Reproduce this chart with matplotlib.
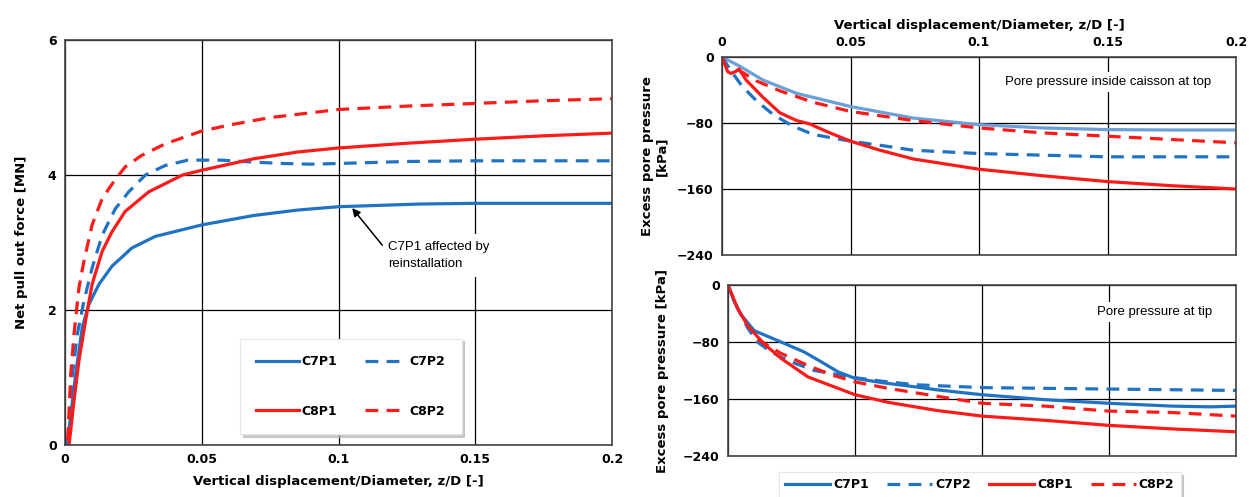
import matplotlib
matplotlib.use("Agg")
import matplotlib.pyplot as plt

BLUE = "#1f72c4"
LIGHT_BLUE = "#6a9fd8"
RED = "#ff1a1a"

# left panel: net pull out force [MN] vs z/D
c7p1_x = [0.0008, 0.0039, 0.0063, 0.0087, 0.0124, 0.0172, 0.0245, 0.033, 0.05, 0.069, 0.085, 0.1, 0.13, 0.15, 0.2]
c7p1_y = [0.0, 1.05, 1.74, 2.08, 2.38, 2.65, 2.92, 3.09, 3.26, 3.40, 3.48, 3.53, 3.57, 3.58, 3.58]
c7p2_x = [0.001, 0.0027, 0.0045, 0.0069, 0.0099, 0.0136, 0.0184, 0.0233, 0.0294, 0.0366, 0.045, 0.057,
          0.069, 0.08, 0.09, 0.1, 0.125, 0.15, 0.2]
c7p2_y = [0.07, 1.05, 1.64, 2.13, 2.62, 3.11, 3.5, 3.75, 4.0, 4.14, 4.22, 4.22,
          4.19, 4.17, 4.16, 4.17, 4.2, 4.21, 4.21]
c8p1_x = [0.0015, 0.0033, 0.0051, 0.0075, 0.0099, 0.0136, 0.0172, 0.022, 0.0306, 0.043, 0.05, 0.069,
          0.085, 0.1, 0.125, 0.15, 0.175, 0.2]
c8p1_y = [0.0, 0.66, 1.25, 1.84, 2.38, 2.87, 3.16, 3.46, 3.75, 4.0, 4.07, 4.24,
          4.34, 4.40, 4.47, 4.53, 4.58, 4.62]
c8p2_x = [0.001, 0.0021, 0.0033, 0.0051, 0.0069, 0.0099, 0.0136, 0.0178, 0.022, 0.028, 0.0366, 0.045,
          0.05, 0.06, 0.075, 0.1, 0.125, 0.15, 0.175, 0.2]
c8p2_y = [0.07, 1.05, 1.64, 2.33, 2.72, 3.26, 3.65, 3.9, 4.12, 4.29, 4.46, 4.58,
          4.65, 4.74, 4.85, 4.97, 5.02, 5.06, 5.1, 5.13]

# right top: pore pressure inside caisson at top [kPa]
top_c7p1_x = [0, 0.0068, 0.016, 0.029, 0.05, 0.0744, 0.1, 0.125, 0.15, 0.175, 0.2]
top_c7p1_y = [0, -11, -28, -44, -60, -74, -82, -86, -88, -88.5, -88.5]
top_c7p2_x = [0, 0.0042, 0.008, 0.0134, 0.02, 0.0277, 0.0356, 0.05, 0.0615, 0.0744, 0.1, 0.125, 0.15, 0.2]
top_c7p2_y = [0, -20, -36, -53, -70, -84, -94, -102, -107, -113, -117, -119, -121, -121]
top_c8p1_x = [0, 0.0022, 0.0035, 0.0052, 0.0066, 0.0094, 0.016, 0.0225, 0.029, 0.034, 0.042, 0.05,
              0.0615, 0.0744, 0.1, 0.125, 0.15, 0.175, 0.2]
top_c8p1_y = [0, -17.8, -19.9, -17.8, -14.5, -28, -49, -67.6, -77, -81, -92, -102,
              -113, -123.6, -136, -144, -151, -156, -160]
top_c8p2_x = [0.0062, 0.0134, 0.0225, 0.0356, 0.05, 0.0744, 0.1, 0.125, 0.15, 0.175, 0.2]
top_c8p2_y = [-15.3, -29, -41, -55, -66, -77, -86, -92, -96, -100, -104]

# right bottom: pore pressure at tip [kPa]
tip_c7p1_x = [0, 0.0024, 0.005, 0.0103, 0.0209, 0.03, 0.0368, 0.0434, 0.05, 0.0606, 0.0738, 0.082,
              0.1, 0.125, 0.15, 0.175, 0.19, 0.2]
tip_c7p1_y = [0, -23, -41, -64, -80, -94, -108, -122, -131, -137, -143, -147,
              -154, -161, -166, -170, -171, -170]
tip_c7p2_x = [0, 0.0037, 0.0077, 0.0116, 0.017, 0.0235, 0.034, 0.05, 0.0606, 0.0738, 0.1, 0.15, 0.2]
tip_c7p2_y = [0, -32, -60, -80, -94, -106, -120, -130, -135, -140, -144, -146, -148]
tip_c8p1_x = [0, 0.0037, 0.0077, 0.0143, 0.0209, 0.0315, 0.05, 0.063, 0.082, 0.1, 0.125, 0.15, 0.175, 0.2]
tip_c8p1_y = [0, -32, -57, -83, -103, -129, -154, -164.6, -176, -184, -190, -197, -202, -206]
tip_c8p2_x = [0.0116, 0.0209, 0.0315, 0.0407, 0.05, 0.063, 0.082, 0.1, 0.125, 0.15, 0.175, 0.2]
tip_c8p2_y = [-76, -96, -113, -126, -136, -145, -156, -166, -170, -177, -179, -184]

x_ticks = [0, 0.05, 0.1, 0.15, 0.2]
x_tick_labels = ["0", "0.05", "0.1", "0.15", "0.2"]
p_ticks = [0, -80, -160, -240]

plt.rcParams["font.family"] = ["DejaVu Sans"]
plt.rcParams["font.weight"] = "bold"

fig = plt.figure(figsize=(12.5, 4.97), dpi=100)
ax_f = fig.add_axes([0.052, 0.1046, 0.4376, 0.815])
ax_t = fig.add_axes([0.5776, 0.4869, 0.4112, 0.3984])
ax_b = fig.add_axes([0.5824, 0.0825, 0.4064, 0.344])

lw = 2.3
dash = (0, (4, 2.6))
shadow = {"color": "#b5b5b5", "alpha": 0.7}


def style_axis(ax):
    ax.set_xlim(0, 0.2)
    ax.set_xticks(x_ticks)
    ax.grid(True, color="black", lw=0.9)
    ax.set_axisbelow(True)
    ax.tick_params(length=0, labelsize=9, pad=6)
    for sp in ax.spines.values():
        sp.set_color("#444444")
        sp.set_linewidth(1.2)


# left panel
style_axis(ax_f)
l1, = ax_f.plot(c7p1_x, c7p1_y, color=BLUE, lw=lw, label="C7P1")
l2, = ax_f.plot(c7p2_x, c7p2_y, color=BLUE, lw=lw, ls=dash, label="C7P2")
l3, = ax_f.plot(c8p1_x, c8p1_y, color=RED, lw=lw, label="C8P1")
l4, = ax_f.plot(c8p2_x, c8p2_y, color=RED, lw=lw, ls=dash, label="C8P2")
ax_f.set_ylim(0, 6)
ax_f.set_yticks([0, 2, 4, 6])
ax_f.set_xticklabels(x_tick_labels)
ax_f.set_xlabel("Vertical displacement/Diameter, z/D [-]", fontsize=9.5, fontweight="bold", labelpad=6)
ax_f.set_ylabel("Net pull out force [MN]", fontsize=9.5, fontweight="bold", labelpad=14)
ax_f.text(0.118, 2.81, "C7P1 affected by\nreinstallation", fontsize=9.5, fontweight="normal",
          family="Liberation Sans", ha="left", va="center", linespacing=1.6,
          bbox=dict(boxstyle="square,pad=0.5", fc="white", ec="none"))
ax_f.annotate("", xy=(0.105, 3.51), xytext=(0.116, 2.96),
              arrowprops=dict(arrowstyle="-|>", color="black", lw=1.1, shrinkA=0, shrinkB=0,
                              mutation_scale=12), zorder=5)
leg = ax_f.legend([l1, l3, l2, l4], ["C7P1", "C8P1", "C7P2", "C8P2"], ncol=2, loc="lower left",
                  bbox_to_anchor=(0.32, 0.027), borderaxespad=0, fontsize=9,
                  frameon=True, fancybox=False, shadow=shadow, edgecolor="#e6e6e6",
                  handlelength=3.4, columnspacing=2.2, labelspacing=2.95,
                  borderpad=1.3, handletextpad=0.2)
leg.get_frame().set_linewidth(0.8)

# right top panel
style_axis(ax_t)
ax_t.plot(top_c7p1_x, top_c7p1_y, color=LIGHT_BLUE, lw=lw)
ax_t.plot(top_c7p2_x, top_c7p2_y, color=BLUE, lw=lw, ls=dash)
ax_t.plot(top_c8p1_x, top_c8p1_y, color=RED, lw=lw)
ax_t.plot(top_c8p2_x, top_c8p2_y, color=RED, lw=lw, ls=dash)
ax_t.set_ylim(-240, 0)
ax_t.set_yticks(p_ticks)
ax_t.xaxis.tick_top()
ax_t.xaxis.set_label_position("top")
ax_t.set_xticklabels(x_tick_labels)
ax_t.set_xlabel("Vertical displacement/Diameter, z/D [-]", fontsize=9.5, fontweight="bold", labelpad=5)
ax_t.set_ylabel("Excess pore pressure\n[kPa]", fontsize=9.5, fontweight="bold", labelpad=6)
ax_t.text(0.1905, -30, "Pore pressure inside caisson at top", fontsize=9.5, fontweight="normal",
          family="Liberation Sans", ha="right", va="center",
          bbox=dict(boxstyle="square,pad=0.3", fc="white", ec="none"))

# right bottom panel
style_axis(ax_b)
ax_b.plot(tip_c7p1_x, tip_c7p1_y, color=BLUE, lw=lw, label="C7P1")
ax_b.plot(tip_c7p2_x, tip_c7p2_y, color=BLUE, lw=lw, ls=dash, label="C7P2")
ax_b.plot(tip_c8p1_x, tip_c8p1_y, color=RED, lw=lw, label="C8P1")
ax_b.plot(tip_c8p2_x, tip_c8p2_y, color=RED, lw=lw, ls=dash, label="C8P2")
ax_b.set_ylim(-240, 0)
ax_b.set_yticks(p_ticks)
ax_b.set_xticklabels([])
ax_b.set_ylabel("Excess pore pressure [kPa]", fontsize=9.5, fontweight="bold", labelpad=10)
ax_b.text(0.1905, -38, "Pore pressure at tip", fontsize=9.5, fontweight="normal",
          family="Liberation Sans", ha="right", va="center",
          bbox=dict(boxstyle="square,pad=0.3", fc="white", ec="none"))
leg_b = ax_b.legend(ncol=4, loc="upper center", bbox_to_anchor=(0.496, -0.094), borderaxespad=0,
                    fontsize=9, frameon=True, fancybox=False, shadow=shadow, edgecolor="#e6e6e6",
                    handlelength=3.6, columnspacing=1.5, handletextpad=0.2, borderpad=0.5)
leg_b.get_frame().set_linewidth(0.8)

fig.savefig("out.png", dpi=100)
